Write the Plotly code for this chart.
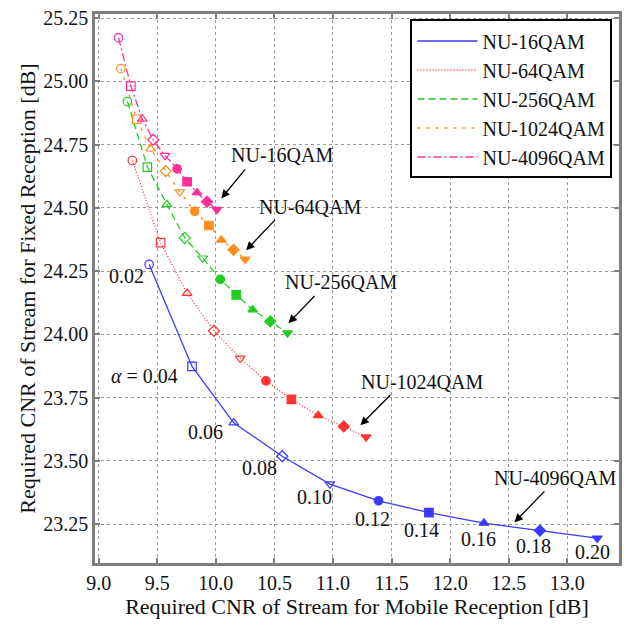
import plotly.graph_objects as go

# alpha values along each curve
alphas = [0.02, 0.04, 0.06, 0.08, 0.10, 0.12, 0.14, 0.16, 0.18, 0.20]

# Required CNR [dB]: mobile (x) and fixed (y) for each non-uniform constellation
nu16_x = [9.431, 9.797, 10.153, 10.567, 10.974, 11.389, 11.819, 12.288, 12.766, 13.255]
nu16_y = [24.276, 23.873, 23.650, 23.518, 23.408, 23.342, 23.295, 23.254, 23.224, 23.194]

nu64_x = [9.288, 9.529, 9.755, 9.984, 10.208, 10.428, 10.645, 10.874, 11.092, 11.282]
nu64_y = [24.687, 24.362, 24.162, 24.014, 23.905, 23.816, 23.743, 23.679, 23.636, 23.594]

nu256_x = [9.246, 9.416, 9.583, 9.735, 9.888, 10.039, 10.174, 10.315, 10.465, 10.612]
nu256_y = [24.920, 24.661, 24.513, 24.381, 24.301, 24.217, 24.156, 24.097, 24.051, 24.005]

nu1024_x = [9.190, 9.326, 9.444, 9.572, 9.693, 9.820, 9.941, 10.047, 10.151, 10.250]
nu1024_y = [25.050, 24.850, 24.733, 24.645, 24.563, 24.486, 24.430, 24.373, 24.334, 24.297]

nu4096_x = [9.170, 9.275, 9.373, 9.466, 9.566, 9.670, 9.755, 9.840, 9.925, 10.009]
nu4096_y = [25.172, 24.981, 24.851, 24.769, 24.707, 24.654, 24.603, 24.560, 24.524, 24.493]

series_names = ["NU-16QAM", "NU-64QAM", "NU-256QAM", "NU-1024QAM", "NU-4096QAM"]
series_x = [nu16_x, nu64_x, nu256_x, nu1024_x, nu4096_x]
series_y = [nu16_y, nu64_y, nu256_y, nu1024_y, nu4096_y]
colors = ["#3a3aff", "#ff3333", "#22cc22", "#ff8c1a", "#ff2f9a"]
dashes = ["solid", "1px,2px", "7px,4px", "3px,6px", "8px,3px,2px,3px"]

# one marker symbol per alpha step: open shapes first, then filled
symbols = ["circle-open", "square-open", "triangle-up-open", "diamond-open",
           "triangle-down-open", "circle", "square", "triangle-up", "diamond",
           "triangle-down"]

# alpha labels along the NU-16QAM curve
alpha_label_text = ["0.02", "<i>α</i> = 0.04", "0.06", "0.08", "0.10", "0.12",
                    "0.14", "0.16", "0.18", "0.20"]
alpha_label_x = [9.235, 9.388, 9.913, 10.372, 10.846, 11.338, 11.757, 12.240, 12.715, 13.216]
alpha_label_y = [24.230, 23.834, 23.612, 23.470, 23.356, 23.270, 23.225, 23.189, 23.165, 23.139]

# callouts: text position, arrow tail, arrow head
callout_text = ["NU-16QAM", "NU-64QAM", "NU-256QAM", "NU-1024QAM", "NU-4096QAM"]
callout_tx = [10.562, 10.804, 11.067, 11.760, 12.895]
callout_ty = [24.709, 24.502, 24.208, 23.812, 23.431]
arrow_tail_x = [10.261, 10.518, 10.855, 11.502, 12.817]
arrow_tail_y = [24.658, 24.458, 24.157, 23.766, 23.385]
arrow_head_x = [10.047, 10.259, 10.620, 11.234, 12.549]
arrow_head_y = [24.537, 24.332, 24.044, 23.640, 23.257]

FONT = "Liberation Serif"
INK = "#111111"

fig = go.Figure()

# lines (these carry the legend entries)
for name, xs, ys, c, d in zip(series_names, series_x, series_y, colors, dashes):
    fig.add_trace(go.Scatter(
        x=xs, y=ys, mode="lines", name=name,
        line=dict(color=c, width=1.3, dash=d),
    ))
# per-alpha markers
for name, xs, ys, c in zip(series_names, series_x, series_y, colors):
    fig.add_trace(go.Scatter(
        x=xs, y=ys, mode="markers", showlegend=False, name=name,
        marker=dict(symbol=symbols, size=8.5, color=c, line=dict(color=c, width=1.2)),
    ))

annotations = []
for t, x, y in zip(alpha_label_text, alpha_label_x, alpha_label_y):
    annotations.append(dict(x=x, y=y, xref="x", yref="y", text=t, showarrow=False,
                            font=dict(family=FONT, size=20, color=INK)))
for t, x, y in zip(callout_text, callout_tx, callout_ty):
    annotations.append(dict(x=x, y=y, xref="x", yref="y", text=t, showarrow=False,
                            font=dict(family=FONT, size=20, color=INK)))
for hx, hy, tx, ty in zip(arrow_head_x, arrow_head_y, arrow_tail_x, arrow_tail_y):
    annotations.append(dict(x=hx, y=hy, xref="x", yref="y", ax=tx, ay=ty,
                            axref="x", ayref="y", text="", showarrow=True,
                            arrowhead=2, arrowsize=1.3, arrowwidth=1.3,
                            arrowcolor="black"))

axis_common = dict(
    showgrid=True, gridcolor="#9a9a9a", griddash="3px,3px", gridwidth=1,
    showline=True, linecolor="#7f7f7f", linewidth=2.5, mirror="ticks",
    ticks="inside", ticklen=5, tickcolor="#7f7f7f", tickwidth=1.5,
    zeroline=False, tickfont=dict(family=FONT, size=20, color=INK),
)

fig.update_layout(
    width=629, height=625,
    margin=dict(l=95, r=7, t=10, b=62),
    paper_bgcolor="white", plot_bgcolor="white",
    font=dict(family=FONT, size=20, color=INK),
    xaxis=dict(range=[8.969, 13.441], tickmode="array",
               tickvals=[9.0, 9.5, 10.0, 10.5, 11.0, 11.5, 12.0, 12.5, 13.0],
               tickformat=".1f",
               title=dict(text="Required CNR of Stream for Mobile Reception [dB]",
                          font=dict(family=FONT, size=22, color=INK), standoff=4),
               **axis_common),
    yaxis=dict(range=[23.096, 25.266], tickmode="array",
               tickvals=[23.25, 23.5, 23.75, 24.0, 24.25, 24.5, 24.75, 25.0, 25.25],
               tickformat=".2f",
               title=dict(text="Required CNR of Stream for Fixed Reception [dB]",
                          font=dict(family=FONT, size=22, color=INK), standoff=2),
               **axis_common),
    legend=dict(x=0.602, y=0.99, xanchor="left", yanchor="top",
                bgcolor="white", bordercolor="black", borderwidth=2,
                font=dict(family=FONT, size=20, color=INK),
                tracegroupgap=0, itemwidth=60),
    annotations=annotations,
    showlegend=True,
)

fig.write_html("out.html")
